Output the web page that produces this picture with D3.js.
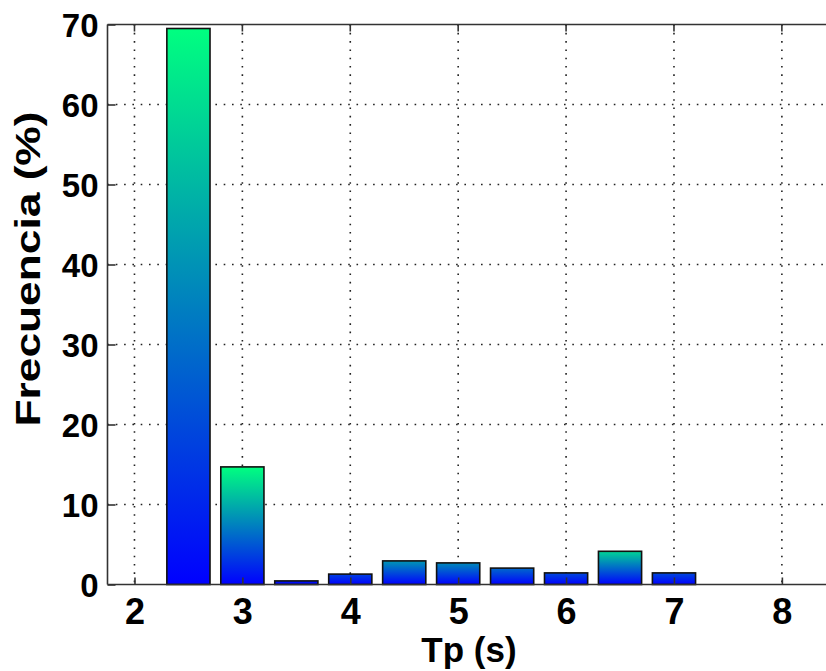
<!DOCTYPE html>
<html>
<head>
<meta charset="utf-8">
<script src="https://cdn.jsdelivr.net/npm/d3@7/dist/d3.min.js"></script>
<style>
  html, body { margin: 0; padding: 0; background: #fff; }
  svg { display: block; }
  text { font-family: "Liberation Sans", Arial, Helvetica, sans-serif; font-weight: bold; fill: #000; }
</style>
</head>
<body>
<script>
// Peak period histogram: bin centres (s) and share of records (%)
const tpCenters = [2.5, 3.0, 3.5, 4.0, 4.5, 5.0, 5.5, 6.0, 6.5, 7.0];
const freqPct   = [69.5, 14.7, 0.45, 1.3, 2.95, 2.7, 2.05, 1.45, 4.15, 1.45];
const xTicks = [2, 3, 4, 5, 6, 7, 8];
const yTicks = [0, 10, 20, 30, 40, 50, 60, 70];
const xLabel = "Tp (s)";
const yLabel = "Frecuencia (%)";

const W = 826, H = 671;
const plot = { left: 107.5, top: 24.5, bottom: 584.5 };

const x = d3.scaleLinear().domain([1.75, 8.45]).range([plot.left, plot.left + 6.7 * 107.9]);
const y = d3.scaleLinear().domain([0, 70]).range([plot.bottom, plot.top]);
const barW = 0.4;

// "winter" colour map: blue -> spring green; colour limit saturates at 5 %
const winter = t => d3.rgb(0, Math.round(255 * t), Math.round(255 * (1 - t / 2)));
const cMax = 5;

const svg = d3.select("body").append("svg").attr("width", W).attr("height", H);
const defs = svg.append("defs");

// dotted grid
const grid = svg.append("g").attr("stroke", "#222").attr("stroke-width", 1.6)
  .attr("stroke-dasharray", "1.6,6.7").attr("fill", "none");
xTicks.forEach(v => grid.append("line")
  .attr("x1", x(v)).attr("x2", x(v)).attr("y1", y(70)).attr("y2", y(0)));
yTicks.filter(v => v > 0 && v < 70).forEach(v => grid.append("line")
  .attr("x1", plot.left).attr("x2", W).attr("y1", y(v)).attr("y2", y(v)));

// bars with vertical gradient
tpCenters.forEach((c, i) => {
  const v = freqPct[i];
  const id = "bar-grad-" + i;
  const g = defs.append("linearGradient").attr("id", id)
    .attr("x1", 0).attr("y1", 0).attr("x2", 0).attr("y2", 1);
  g.append("stop").attr("offset", 0).attr("stop-color", winter(Math.min(v / cMax, 1)));
  g.append("stop").attr("offset", 1).attr("stop-color", winter(0));
});
svg.append("g").selectAll("rect").data(tpCenters).join("rect")
  .attr("x", d => x(d - barW / 2))
  .attr("width", d => x(d + barW / 2) - x(d - barW / 2))
  .attr("y", (d, i) => y(freqPct[i]))
  .attr("height", (d, i) => y(0) - y(freqPct[i]))
  .attr("fill", (d, i) => `url(#bar-grad-${i})`)
  .attr("stroke", "#111").attr("stroke-width", 1.6);

// axes box
const axisColor = "#333";
const box = svg.append("g").attr("stroke", axisColor).attr("stroke-width", 1.6).attr("fill", "none");
box.append("line").attr("x1", plot.left).attr("x2", W).attr("y1", plot.top).attr("y2", plot.top);
box.append("line").attr("x1", plot.left).attr("x2", W).attr("y1", plot.bottom).attr("y2", plot.bottom);
box.append("line").attr("x1", plot.left).attr("x2", plot.left).attr("y1", plot.top).attr("y2", plot.bottom);

// x axis: inward ticks on bottom and top, labels below
const xAxis = d3.axisBottom(x).tickValues(xTicks).tickSizeInner(-7).tickSizeOuter(0).tickPadding(14)
  .tickFormat(d3.format("d"));
const gx = svg.append("g").attr("transform", `translate(0,${plot.bottom})`).call(xAxis);
gx.select(".domain").remove();
gx.selectAll(".tick line").attr("stroke", axisColor).attr("stroke-width", 1.6);
gx.selectAll(".tick text").attr("font-size", 36).attr("dy", null).attr("y", 39.5)
  .attr("font-family", null).style("font-weight", "bold");
xTicks.forEach(v => box.append("line")
  .attr("x1", x(v)).attr("x2", x(v)).attr("y1", plot.top).attr("y2", plot.top + 7));

// y axis: inward ticks, labels at left
const yAxis = d3.axisLeft(y).tickValues(yTicks).tickSizeInner(-8).tickSizeOuter(0).tickPadding(9)
  .tickFormat(d3.format("d"));
const gy = svg.append("g").attr("transform", `translate(${plot.left},0)`).call(yAxis);
gy.select(".domain").remove();
gy.selectAll(".tick line").attr("stroke", axisColor).attr("stroke-width", 1.6);
gy.selectAll(".tick text").attr("font-size", 33).attr("dy", "0.37em").attr("x", -9)
  .attr("font-family", null).style("font-weight", "bold");

// axis titles
svg.append("text").attr("x", 469).attr("y", 662).attr("text-anchor", "middle")
  .attr("font-size", 35).text(xLabel);
svg.append("text").attr("transform", "translate(40,269) rotate(-90)")
  .attr("text-anchor", "middle").attr("font-size", 35)
  .attr("textLength", 315).attr("lengthAdjust", "spacingAndGlyphs").text(yLabel);
</script>
</body>
</html>
